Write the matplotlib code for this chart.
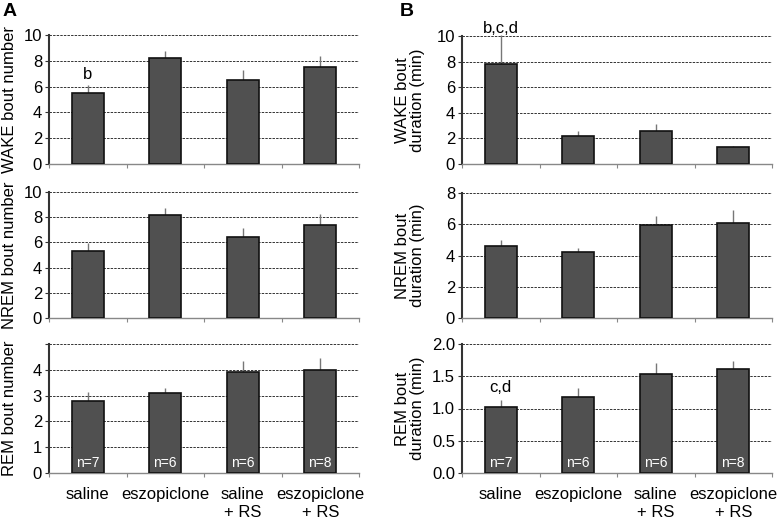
import numpy as np
import matplotlib.pyplot as plt

plt.rcParams['font.family'] = ['Liberation Sans', 'DejaVu Sans']

groups = ["saline", "eszopiclone", "saline\n+ RS", "eszopiclone\n+ RS"]
n_labels = ["n=7", "n=6", "n=6", "n=8"]

wake_num = [5.5, 8.25, 6.5, 7.5]
wake_num_err = [0.6, 0.5, 0.75, 0.9]
nrem_num = [5.3, 8.2, 6.45, 7.4]
nrem_num_err = [0.65, 0.5, 0.7, 0.85]
rem_num = [2.8, 3.1, 3.93, 4.0]
rem_num_err = [0.35, 0.2, 0.4, 0.47]

wake_dur = [7.85, 2.15, 2.6, 1.3]
wake_dur_err = [2.2, 0.45, 0.5, 0.12]
nrem_dur = [4.6, 4.25, 5.95, 6.1]
nrem_dur_err = [0.4, 0.25, 0.6, 0.8]
rem_dur = [1.02, 1.18, 1.53, 1.62]
rem_dur_err = [0.11, 0.14, 0.17, 0.12]

W, H = 784, 519
fig = plt.figure(figsize=(W / 100, H / 100), dpi=100)

def panel(x0, x1, ytop, y0, vals, errs, ylim, yticks, yticklabels, ylabel, ylab_x):
    ax = fig.add_axes([x0 / W, (H - y0) / H, (x1 - x0) / W, (y0 - ytop) / H])
    x = np.arange(4) + 0.5
    ax.bar(x, vals, width=0.41, color='#505050', edgecolor='#111111', linewidth=1.2, zorder=3)
    ax.errorbar(x, vals, yerr=[np.zeros(4), errs], fmt='none', ecolor='#777777',
                elinewidth=1, capsize=0, zorder=2, clip_on=False)
    ax.set_xlim(0, 4)
    ax.set_ylim(0, ylim)
    ax.set_xticks([0, 1, 2, 3, 4])
    ax.set_xticklabels([])
    ax.set_yticks(yticks)
    ax.set_yticklabels(yticklabels, fontsize=12)
    for g in [t for t in yticks if t > 0]:
        ax.axhline(g, color='#333333', linestyle=(0, (2.5, 1.2)), linewidth=0.7, zorder=1)
    for s in ['top', 'right']:
        ax.spines[s].set_visible(False)
    ax.spines['left'].set_color('#333333')
    ax.spines['left'].set_linewidth(1.5)
    ax.spines['bottom'].set_color('#888888')
    ax.spines['bottom'].set_linewidth(1.0)
    ax.tick_params(axis='x', length=3, color='#888888')
    ax.tick_params(axis='y', length=3, color='#333333', pad=2)
    ax.set_ylabel(ylabel, fontsize=12, linespacing=1.0)
    ax.yaxis.set_label_coords(ylab_x, 0.5)
    return ax

L0, L1 = 49, 359
R0, R1 = 462, 772

a1 = panel(L0, L1, 35, 164, wake_num, wake_num_err, 10, [0, 2, 4, 6, 8, 10],
           ['0', '2', '4', '6', '8', '10'], "WAKE bout number", -0.103)
a2 = panel(L0, L1, 192, 318, nrem_num, nrem_num_err, 10, [0, 2, 4, 6, 8, 10],
           ['0', '2', '4', '6', '8', '10'], "NREM bout number", -0.103)
a3 = panel(L0, L1, 344, 473, rem_num, rem_num_err, 5, [0, 1, 2, 3, 4, 5],
           ['0', '1', '2', '3', '4', ''], "REM bout number", -0.103)

b1 = panel(R0, R1, 36, 164, wake_dur, wake_dur_err, 10, [0, 2, 4, 6, 8, 10],
           ['0', '2', '4', '6', '8', '10'], "WAKE bout\nduration (min)", -0.12)
b2 = panel(R0, R1, 193, 318, nrem_dur, nrem_dur_err, 8, [0, 2, 4, 6, 8],
           ['0', '2', '4', '6', '8'], "NREM bout\nduration (min)", -0.12)
b3 = panel(R0, R1, 344, 473, rem_dur, rem_dur_err, 2.0, [0, 0.5, 1.0, 1.5, 2.0],
           ['0.0', '0.5', '1.0', '1.5', '2.0'], "REM bout\nduration (min)", -0.12)

# significance letters
a1.text(0.5, 6.9, "b", ha='center', va='center', fontsize=12)
b1.text(0.5, 10.6, "b,c,d", ha='center', va='center', fontsize=12)
b3.text(0.5, 1.32, "c,d", ha='center', va='center', fontsize=12)

# n labels and group labels
for ax, ymax in [(a3, 5), (b3, 2.0)]:
    for i, t in enumerate(n_labels):
        ax.text(i + 0.5, 0.02 * ymax, t, ha='center', va='bottom', fontsize=10,
                color='white', zorder=4)
    for i, g in enumerate(groups):
        ax.text(i + 0.5, -0.11, g, transform=ax.get_xaxis_transform(), ha='center',
                va='top', fontsize=12, linespacing=1.25)

fig.text(3 / W, 1 - 12 / H, "A", fontsize=14, fontweight='bold', va='center', ha='left')
fig.text(400 / W, 1 - 12 / H, "B", fontsize=14, fontweight='bold', va='center', ha='left')

fig.savefig("out.png", dpi=100)
